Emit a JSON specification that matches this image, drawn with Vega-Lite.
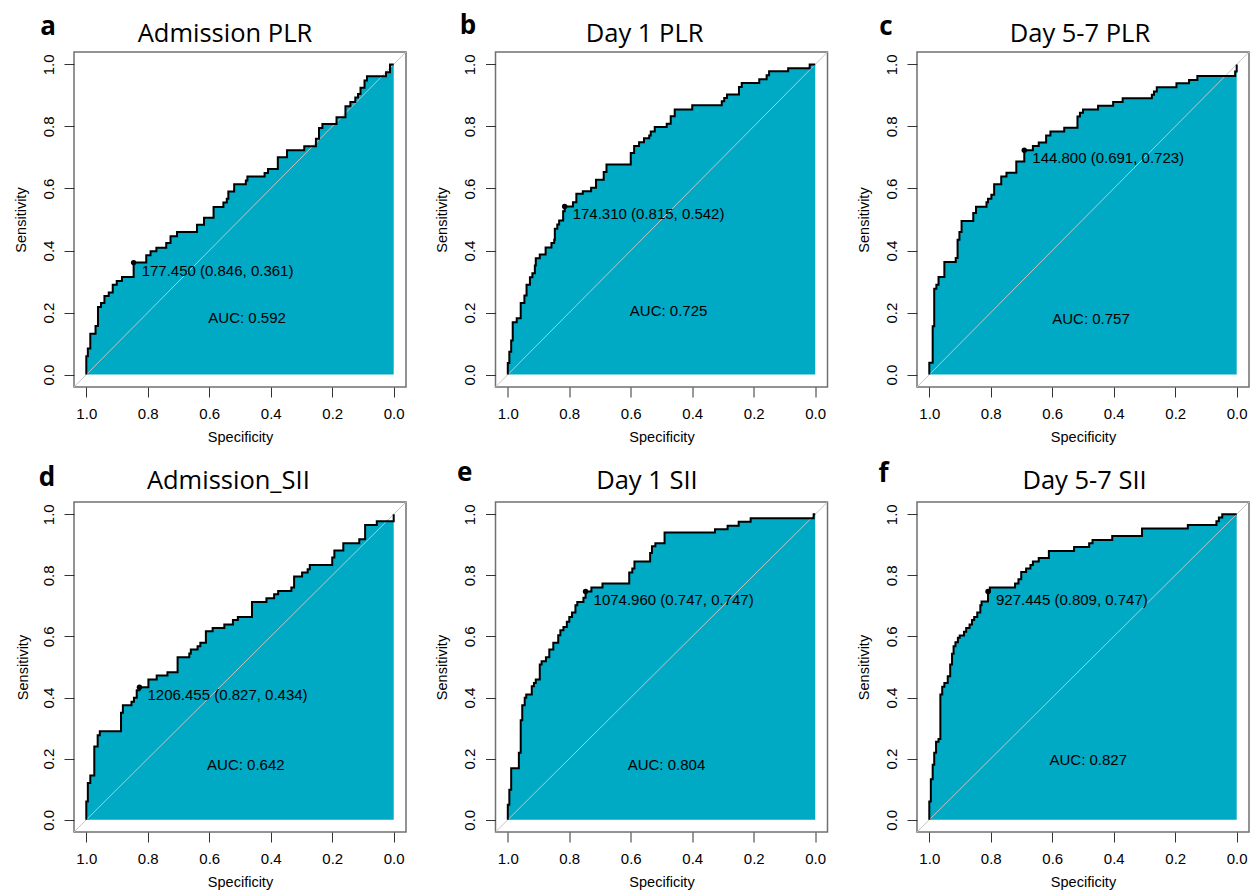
{
"$schema": "https://vega.github.io/schema/vega-lite/v6.json",
"background": "white",
"padding": {"left": 12, "top": 12, "right": 0, "bottom": 0},
"config": {
  "view": {"stroke": null},
  "font": "Liberation Sans",
  "axis": {"domain": false, "grid": false, "tickColor": "#333333", "tickSize": 10, "tickWidth": 1, "labelFont": "Liberation Sans", "labelFontSize": 15, "labelColor": "#000000", "titleFont": "Liberation Sans", "titleFontSize": 14.5, "titleFontWeight": "normal", "titleColor": "#000000", "labelFlush": false, "labelOverlap": false},
  "axisX": {"labelPadding": 9, "titlePadding": 9},
  "axisY": {"labelAngle": -90, "labelAlign": "center", "labelBaseline": "bottom", "labelPadding": 8, "titlePadding": 13},
  "text": {"font": "Liberation Sans", "color": "#000000"}
},
"datasets": {
  "a": [{"spec":1.0,"sens":0},{"spec":1.0,"sens":0.059},{"spec":0.995,"sens":0.084},{"spec":0.987,"sens":0.132},{"spec":0.970,"sens":0.157},{"spec":0.962,"sens":0.218},{"spec":0.952,"sens":0.231},{"spec":0.941,"sens":0.253},{"spec":0.927,"sens":0.265},{"spec":0.914,"sens":0.290},{"spec":0.901,"sens":0.302},{"spec":0.884,"sens":0.315},{"spec":0.846,"sens":0.361},{"spec":0.805,"sens":0.385},{"spec":0.791,"sens":0.398},{"spec":0.772,"sens":0.409},{"spec":0.740,"sens":0.424},{"spec":0.726,"sens":0.446},{"spec":0.705,"sens":0.460},{"spec":0.640,"sens":0.483},{"spec":0.617,"sens":0.506},{"spec":0.586,"sens":0.540},{"spec":0.554,"sens":0.555},{"spec":0.543,"sens":0.567},{"spec":0.538,"sens":0.590},{"spec":0.519,"sens":0.614},{"spec":0.481,"sens":0.626},{"spec":0.476,"sens":0.639},{"spec":0.420,"sens":0.650},{"spec":0.409,"sens":0.663},{"spec":0.377,"sens":0.701},{"spec":0.347,"sens":0.723},{"spec":0.291,"sens":0.736},{"spec":0.253,"sens":0.760},{"spec":0.243,"sens":0.795},{"spec":0.232,"sens":0.808},{"spec":0.186,"sens":0.830},{"spec":0.157,"sens":0.865},{"spec":0.141,"sens":0.879},{"spec":0.125,"sens":0.893},{"spec":0.116,"sens":0.905},{"spec":0.108,"sens":0.925},{"spec":0.095,"sens":0.948},{"spec":0.087,"sens":0.962},{"spec":0.025,"sens":0.975},{"spec":0.012,"sens":1.0},{"spec":0.0,"sens":1.0}],
  "b": [{"spec":1.0,"sens":0},{"spec":1.0,"sens":0.037},{"spec":0.995,"sens":0.074},{"spec":0.989,"sens":0.110},{"spec":0.984,"sens":0.169},{"spec":0.971,"sens":0.182},{"spec":0.958,"sens":0.231},{"spec":0.946,"sens":0.255},{"spec":0.939,"sens":0.290},{"spec":0.928,"sens":0.314},{"spec":0.920,"sens":0.327},{"spec":0.912,"sens":0.352},{"spec":0.909,"sens":0.375},{"spec":0.896,"sens":0.387},{"spec":0.877,"sens":0.410},{"spec":0.858,"sens":0.424},{"spec":0.849,"sens":0.435},{"spec":0.847,"sens":0.470},{"spec":0.839,"sens":0.484},{"spec":0.833,"sens":0.497},{"spec":0.820,"sens":0.527},{"spec":0.815,"sens":0.542},{"spec":0.788,"sens":0.556},{"spec":0.777,"sens":0.583},{"spec":0.756,"sens":0.591},{"spec":0.729,"sens":0.602},{"spec":0.713,"sens":0.628},{"spec":0.688,"sens":0.653},{"spec":0.679,"sens":0.677},{"spec":0.600,"sens":0.714},{"spec":0.589,"sens":0.737},{"spec":0.573,"sens":0.749},{"spec":0.557,"sens":0.762},{"spec":0.540,"sens":0.771},{"spec":0.535,"sens":0.784},{"spec":0.522,"sens":0.798},{"spec":0.483,"sens":0.809},{"spec":0.470,"sens":0.833},{"spec":0.457,"sens":0.855},{"spec":0.400,"sens":0.868},{"spec":0.304,"sens":0.881},{"spec":0.296,"sens":0.892},{"spec":0.287,"sens":0.903},{"spec":0.248,"sens":0.927},{"spec":0.239,"sens":0.940},{"spec":0.182,"sens":0.952},{"spec":0.158,"sens":0.965},{"spec":0.150,"sens":0.978},{"spec":0.088,"sens":0.988},{"spec":0.018,"sens":1.0},{"spec":0.0,"sens":1.0}],
  "c": [{"spec":1.0,"sens":0},{"spec":1.0,"sens":0.038},{"spec":0.989,"sens":0.156},{"spec":0.984,"sens":0.277},{"spec":0.977,"sens":0.290},{"spec":0.970,"sens":0.315},{"spec":0.951,"sens":0.363},{"spec":0.914,"sens":0.376},{"spec":0.908,"sens":0.435},{"spec":0.902,"sens":0.460},{"spec":0.895,"sens":0.495},{"spec":0.857,"sens":0.521},{"spec":0.848,"sens":0.541},{"spec":0.814,"sens":0.556},{"spec":0.809,"sens":0.567},{"spec":0.798,"sens":0.580},{"spec":0.789,"sens":0.614},{"spec":0.766,"sens":0.639},{"spec":0.749,"sens":0.651},{"spec":0.717,"sens":0.687},{"spec":0.691,"sens":0.723},{"spec":0.663,"sens":0.737},{"spec":0.644,"sens":0.748},{"spec":0.620,"sens":0.771},{"spec":0.606,"sens":0.784},{"spec":0.561,"sens":0.796},{"spec":0.518,"sens":0.832},{"spec":0.510,"sens":0.844},{"spec":0.500,"sens":0.855},{"spec":0.451,"sens":0.867},{"spec":0.402,"sens":0.879},{"spec":0.371,"sens":0.891},{"spec":0.276,"sens":0.902},{"spec":0.269,"sens":0.913},{"spec":0.260,"sens":0.926},{"spec":0.196,"sens":0.939},{"spec":0.155,"sens":0.950},{"spec":0.128,"sens":0.963},{"spec":0.005,"sens":0.977},{"spec":0.0,"sens":1.0}],
  "d": [{"spec":1.0,"sens":0},{"spec":1.0,"sens":0.060},{"spec":0.995,"sens":0.120},{"spec":0.987,"sens":0.145},{"spec":0.974,"sens":0.240},{"spec":0.963,"sens":0.277},{"spec":0.956,"sens":0.290},{"spec":0.887,"sens":0.350},{"spec":0.881,"sens":0.375},{"spec":0.853,"sens":0.386},{"spec":0.845,"sens":0.399},{"spec":0.836,"sens":0.424},{"spec":0.827,"sens":0.434},{"spec":0.798,"sens":0.459},{"spec":0.771,"sens":0.472},{"spec":0.736,"sens":0.483},{"spec":0.703,"sens":0.532},{"spec":0.665,"sens":0.544},{"spec":0.660,"sens":0.557},{"spec":0.638,"sens":0.568},{"spec":0.629,"sens":0.579},{"spec":0.611,"sens":0.617},{"spec":0.589,"sens":0.628},{"spec":0.551,"sens":0.639},{"spec":0.523,"sens":0.654},{"spec":0.507,"sens":0.664},{"spec":0.461,"sens":0.713},{"spec":0.414,"sens":0.725},{"spec":0.389,"sens":0.738},{"spec":0.376,"sens":0.749},{"spec":0.333,"sens":0.760},{"spec":0.324,"sens":0.796},{"spec":0.298,"sens":0.809},{"spec":0.280,"sens":0.820},{"spec":0.273,"sens":0.834},{"spec":0.200,"sens":0.858},{"spec":0.193,"sens":0.881},{"spec":0.164,"sens":0.905},{"spec":0.112,"sens":0.918},{"spec":0.093,"sens":0.965},{"spec":0.055,"sens":0.977},{"spec":0.0,"sens":1.0}],
  "e": [{"spec":1.0,"sens":0},{"spec":1.0,"sens":0.049},{"spec":0.995,"sens":0.098},{"spec":0.989,"sens":0.169},{"spec":0.964,"sens":0.219},{"spec":0.958,"sens":0.326},{"spec":0.953,"sens":0.375},{"spec":0.945,"sens":0.399},{"spec":0.940,"sens":0.410},{"spec":0.922,"sens":0.437},{"spec":0.915,"sens":0.448},{"spec":0.909,"sens":0.459},{"spec":0.896,"sens":0.508},{"spec":0.890,"sens":0.519},{"spec":0.876,"sens":0.532},{"spec":0.865,"sens":0.557},{"spec":0.852,"sens":0.579},{"spec":0.836,"sens":0.604},{"spec":0.829,"sens":0.620},{"spec":0.819,"sens":0.631},{"spec":0.808,"sens":0.648},{"spec":0.800,"sens":0.664},{"spec":0.791,"sens":0.678},{"spec":0.780,"sens":0.702},{"spec":0.774,"sens":0.713},{"spec":0.754,"sens":0.727},{"spec":0.747,"sens":0.747},{"spec":0.728,"sens":0.760},{"spec":0.692,"sens":0.773},{"spec":0.605,"sens":0.809},{"spec":0.595,"sens":0.822},{"spec":0.588,"sens":0.845},{"spec":0.537,"sens":0.873},{"spec":0.531,"sens":0.895},{"spec":0.520,"sens":0.905},{"spec":0.490,"sens":0.940},{"spec":0.326,"sens":0.951},{"spec":0.285,"sens":0.962},{"spec":0.249,"sens":0.975},{"spec":0.210,"sens":0.987},{"spec":0.005,"sens":1.0},{"spec":0.0,"sens":1.0}],
  "f": [{"spec":1.0,"sens":0},{"spec":1.0,"sens":0.060},{"spec":0.995,"sens":0.133},{"spec":0.989,"sens":0.180},{"spec":0.984,"sens":0.219},{"spec":0.978,"sens":0.255},{"spec":0.970,"sens":0.264},{"spec":0.964,"sens":0.410},{"spec":0.958,"sens":0.435},{"spec":0.951,"sens":0.448},{"spec":0.940,"sens":0.470},{"spec":0.932,"sens":0.508},{"spec":0.926,"sens":0.543},{"spec":0.921,"sens":0.568},{"spec":0.915,"sens":0.581},{"spec":0.907,"sens":0.596},{"spec":0.901,"sens":0.603},{"spec":0.887,"sens":0.615},{"spec":0.880,"sens":0.628},{"spec":0.869,"sens":0.639},{"spec":0.861,"sens":0.654},{"spec":0.854,"sens":0.664},{"spec":0.844,"sens":0.678},{"spec":0.834,"sens":0.702},{"spec":0.830,"sens":0.714},{"spec":0.809,"sens":0.747},{"spec":0.803,"sens":0.760},{"spec":0.721,"sens":0.773},{"spec":0.710,"sens":0.787},{"spec":0.701,"sens":0.811},{"spec":0.685,"sens":0.822},{"spec":0.671,"sens":0.834},{"spec":0.663,"sens":0.845},{"spec":0.644,"sens":0.857},{"spec":0.611,"sens":0.880},{"spec":0.529,"sens":0.893},{"spec":0.480,"sens":0.905},{"spec":0.469,"sens":0.916},{"spec":0.405,"sens":0.929},{"spec":0.308,"sens":0.953},{"spec":0.159,"sens":0.965},{"spec":0.066,"sens":0.977},{"spec":0.058,"sens":0.989},{"spec":0.047,"sens":1.0},{"spec":0.0,"sens":1.0}],
  "a_t": [{"spec":0.846,"sens":0.361,"label":"177.450 (0.846, 0.361)","auc":"AUC: 0.592","letter":"a","name":"Admission PLR"}],
  "b_t": [{"spec":0.815,"sens":0.542,"label":"174.310 (0.815, 0.542)","auc":"AUC: 0.725","letter":"b","name":"Day 1 PLR"}],
  "c_t": [{"spec":0.691,"sens":0.723,"label":"144.800 (0.691, 0.723)","auc":"AUC: 0.757","letter":"c","name":"Day 5-7 PLR"}],
  "d_t": [{"spec":0.827,"sens":0.434,"label":"1206.455 (0.827, 0.434)","auc":"AUC: 0.642","letter":"d","name":"Admission_SII"}],
  "e_t": [{"spec":0.747,"sens":0.747,"label":"1074.960 (0.747, 0.747)","auc":"AUC: 0.804","letter":"e","name":"Day 1 SII"}],
  "f_t": [{"spec":0.809,"sens":0.747,"label":"927.445 (0.809, 0.747)","auc":"AUC: 0.827","letter":"f","name":"Day 5-7 SII"}]
},
"columns": 3,
"spacing": {"row": 115, "column": 89.5},
"bounds": "flush",
"align": "all",
"concat": [
  {"width": 332, "height": 335, "view": {"stroke": "#707070", "strokeWidth": 1.5},
   "layer": [
    {"data": {"name": "a"}, "mark": {"type": "area", "interpolate": "step-after", "color": "#00A9C4", "opacity": 1},
     "encoding": {"x": {"field": "spec", "type": "quantitative", "scale": {"domain": [-0.04, 1.04], "reverse": true, "nice": false, "zero": false}, "axis": {"title": "Specificity", "values": [0, 0.2, 0.4, 0.6, 0.8, 1], "format": ".1f"}},
                  "y": {"field": "sens", "type": "quantitative", "scale": {"domain": [-0.04, 1.04], "nice": false, "zero": false}, "axis": {"title": "Sensitivity", "values": [0, 0.2, 0.4, 0.6, 0.8, 1], "format": ".1f"}},
                  "y2": {"datum": 0}, "order": {"value": null}}},
    {"data": {"values": [{}]}, "mark": {"type": "rule", "color": "#c4c4c4", "strokeWidth": 1}, "encoding": {"x": {"datum": 1.04}, "y": {"datum": -0.04}, "x2": {"datum": -0.04}, "y2": {"datum": 1.04}}},
    {"data": {"name": "a"}, "mark": {"type": "line", "interpolate": "step-after", "color": "#000000", "strokeWidth": 2}, "encoding": {"x": {"field": "spec", "type": "quantitative"}, "y": {"field": "sens", "type": "quantitative"}, "order": {"value": null}}},
    {"data": {"name": "a_t"}, "mark": {"type": "point", "filled": true, "color": "#000000", "size": 30, "opacity": 1}, "encoding": {"x": {"field": "spec", "type": "quantitative"}, "y": {"field": "sens", "type": "quantitative"}}},
    {"data": {"name": "a_t"}, "mark": {"type": "text", "align": "left", "baseline": "middle", "dx": 8, "dy": 8, "fontSize": 15}, "encoding": {"x": {"field": "spec", "type": "quantitative"}, "y": {"field": "sens", "type": "quantitative"}, "text": {"field": "label"}}},
    {"data": {"name": "a_t"}, "mark": {"type": "text", "align": "left", "baseline": "middle", "fontSize": 15}, "encoding": {"x": {"datum": 0.603}, "y": {"datum": 0.183}, "text": {"field": "auc"}}},
    {"data": {"name": "a_t"}, "mark": {"type": "text", "align": "left", "baseline": "alphabetic", "font": "Open Sans", "fontWeight": "bold", "fontSize": 26}, "encoding": {"x": {"datum": 1.15}, "y": {"datum": 1.095}, "text": {"field": "letter"}}},
    {"data": {"name": "a_t"}, "mark": {"type": "text", "align": "center", "baseline": "alphabetic", "font": "Open Sans", "fontSize": 25.5}, "encoding": {"x": {"datum": 0.549}, "y": {"datum": 1.072}, "text": {"field": "name"}}}
   ]},
  {"width": 332, "height": 335, "view": {"stroke": "#707070", "strokeWidth": 1.5},
   "layer": [
    {"data": {"name": "b"}, "mark": {"type": "area", "interpolate": "step-after", "color": "#00A9C4", "opacity": 1},
     "encoding": {"x": {"field": "spec", "type": "quantitative", "scale": {"domain": [-0.04, 1.04], "reverse": true, "nice": false, "zero": false}, "axis": {"title": "Specificity", "values": [0, 0.2, 0.4, 0.6, 0.8, 1], "format": ".1f"}},
                  "y": {"field": "sens", "type": "quantitative", "scale": {"domain": [-0.04, 1.04], "nice": false, "zero": false}, "axis": {"title": "Sensitivity", "values": [0, 0.2, 0.4, 0.6, 0.8, 1], "format": ".1f"}},
                  "y2": {"datum": 0}, "order": {"value": null}}},
    {"data": {"values": [{}]}, "mark": {"type": "rule", "color": "#c4c4c4", "strokeWidth": 1}, "encoding": {"x": {"datum": 1.04}, "y": {"datum": -0.04}, "x2": {"datum": -0.04}, "y2": {"datum": 1.04}}},
    {"data": {"name": "b"}, "mark": {"type": "line", "interpolate": "step-after", "color": "#000000", "strokeWidth": 2}, "encoding": {"x": {"field": "spec", "type": "quantitative"}, "y": {"field": "sens", "type": "quantitative"}, "order": {"value": null}}},
    {"data": {"name": "b_t"}, "mark": {"type": "point", "filled": true, "color": "#000000", "size": 30, "opacity": 1}, "encoding": {"x": {"field": "spec", "type": "quantitative"}, "y": {"field": "sens", "type": "quantitative"}}},
    {"data": {"name": "b_t"}, "mark": {"type": "text", "align": "left", "baseline": "middle", "dx": 8, "dy": 8, "fontSize": 15}, "encoding": {"x": {"field": "spec", "type": "quantitative"}, "y": {"field": "sens", "type": "quantitative"}, "text": {"field": "label"}}},
    {"data": {"name": "b_t"}, "mark": {"type": "text", "align": "left", "baseline": "middle", "fontSize": 15}, "encoding": {"x": {"datum": 0.603}, "y": {"datum": 0.204}, "text": {"field": "auc"}}},
    {"data": {"name": "b_t"}, "mark": {"type": "text", "align": "left", "baseline": "alphabetic", "font": "Open Sans", "fontWeight": "bold", "fontSize": 26}, "encoding": {"x": {"datum": 1.156}, "y": {"datum": 1.098}, "text": {"field": "letter"}}},
    {"data": {"name": "b_t"}, "mark": {"type": "text", "align": "center", "baseline": "alphabetic", "font": "Open Sans", "fontSize": 25.5}, "encoding": {"x": {"datum": 0.555}, "y": {"datum": 1.072}, "text": {"field": "name"}}}
   ]},
  {"width": 332, "height": 335, "view": {"stroke": "#707070", "strokeWidth": 1.5},
   "layer": [
    {"data": {"name": "c"}, "mark": {"type": "area", "interpolate": "step-after", "color": "#00A9C4", "opacity": 1},
     "encoding": {"x": {"field": "spec", "type": "quantitative", "scale": {"domain": [-0.04, 1.04], "reverse": true, "nice": false, "zero": false}, "axis": {"title": "Specificity", "values": [0, 0.2, 0.4, 0.6, 0.8, 1], "format": ".1f"}},
                  "y": {"field": "sens", "type": "quantitative", "scale": {"domain": [-0.04, 1.04], "nice": false, "zero": false}, "axis": {"title": "Sensitivity", "values": [0, 0.2, 0.4, 0.6, 0.8, 1], "format": ".1f"}},
                  "y2": {"datum": 0}, "order": {"value": null}}},
    {"data": {"values": [{}]}, "mark": {"type": "rule", "color": "#c4c4c4", "strokeWidth": 1}, "encoding": {"x": {"datum": 1.04}, "y": {"datum": -0.04}, "x2": {"datum": -0.04}, "y2": {"datum": 1.04}}},
    {"data": {"name": "c"}, "mark": {"type": "line", "interpolate": "step-after", "color": "#000000", "strokeWidth": 2}, "encoding": {"x": {"field": "spec", "type": "quantitative"}, "y": {"field": "sens", "type": "quantitative"}, "order": {"value": null}}},
    {"data": {"name": "c_t"}, "mark": {"type": "point", "filled": true, "color": "#000000", "size": 30, "opacity": 1}, "encoding": {"x": {"field": "spec", "type": "quantitative"}, "y": {"field": "sens", "type": "quantitative"}}},
    {"data": {"name": "c_t"}, "mark": {"type": "text", "align": "left", "baseline": "middle", "dx": 8, "dy": 8, "fontSize": 15}, "encoding": {"x": {"field": "spec", "type": "quantitative"}, "y": {"field": "sens", "type": "quantitative"}, "text": {"field": "label"}}},
    {"data": {"name": "c_t"}, "mark": {"type": "text", "align": "left", "baseline": "middle", "fontSize": 15}, "encoding": {"x": {"datum": 0.6}, "y": {"datum": 0.178}, "text": {"field": "auc"}}},
    {"data": {"name": "c_t"}, "mark": {"type": "text", "align": "left", "baseline": "alphabetic", "font": "Open Sans", "fontWeight": "bold", "fontSize": 26}, "encoding": {"x": {"datum": 1.163}, "y": {"datum": 1.095}, "text": {"field": "letter"}}},
    {"data": {"name": "c_t"}, "mark": {"type": "text", "align": "center", "baseline": "alphabetic", "font": "Open Sans", "fontSize": 25.5}, "encoding": {"x": {"datum": 0.51}, "y": {"datum": 1.072}, "text": {"field": "name"}}}
   ]},
  {"width": 332, "height": 330, "view": {"stroke": "#707070", "strokeWidth": 1.5},
   "layer": [
    {"data": {"name": "d"}, "mark": {"type": "area", "interpolate": "step-after", "color": "#00A9C4", "opacity": 1},
     "encoding": {"x": {"field": "spec", "type": "quantitative", "scale": {"domain": [-0.04, 1.04], "reverse": true, "nice": false, "zero": false}, "axis": {"title": "Specificity", "values": [0, 0.2, 0.4, 0.6, 0.8, 1], "format": ".1f"}},
                  "y": {"field": "sens", "type": "quantitative", "scale": {"domain": [-0.04, 1.04], "nice": false, "zero": false}, "axis": {"title": "Sensitivity", "values": [0, 0.2, 0.4, 0.6, 0.8, 1], "format": ".1f", "titlePadding": 11}},
                  "y2": {"datum": 0}, "order": {"value": null}}},
    {"data": {"values": [{}]}, "mark": {"type": "rule", "color": "#c4c4c4", "strokeWidth": 1}, "encoding": {"x": {"datum": 1.04}, "y": {"datum": -0.04}, "x2": {"datum": -0.04}, "y2": {"datum": 1.04}}},
    {"data": {"name": "d"}, "mark": {"type": "line", "interpolate": "step-after", "color": "#000000", "strokeWidth": 2}, "encoding": {"x": {"field": "spec", "type": "quantitative"}, "y": {"field": "sens", "type": "quantitative"}, "order": {"value": null}}},
    {"data": {"name": "d_t"}, "mark": {"type": "point", "filled": true, "color": "#000000", "size": 30, "opacity": 1}, "encoding": {"x": {"field": "spec", "type": "quantitative"}, "y": {"field": "sens", "type": "quantitative"}}},
    {"data": {"name": "d_t"}, "mark": {"type": "text", "align": "left", "baseline": "middle", "dx": 8, "dy": 8, "fontSize": 15}, "encoding": {"x": {"field": "spec", "type": "quantitative"}, "y": {"field": "sens", "type": "quantitative"}, "text": {"field": "label"}}},
    {"data": {"name": "d_t"}, "mark": {"type": "text", "align": "left", "baseline": "middle", "fontSize": 15}, "encoding": {"x": {"datum": 0.607}, "y": {"datum": 0.18}, "text": {"field": "auc"}}},
    {"data": {"name": "d_t"}, "mark": {"type": "text", "align": "left", "baseline": "alphabetic", "font": "Open Sans", "fontWeight": "bold", "fontSize": 26}, "encoding": {"x": {"datum": 1.155}, "y": {"datum": 1.092}, "text": {"field": "letter"}}},
    {"data": {"name": "d_t"}, "mark": {"type": "text", "align": "center", "baseline": "alphabetic", "font": "Open Sans", "fontSize": 25.5}, "encoding": {"x": {"datum": 0.538}, "y": {"datum": 1.0825}, "text": {"field": "name"}}}
   ]},
  {"width": 332, "height": 330, "view": {"stroke": "#707070", "strokeWidth": 1.5},
   "layer": [
    {"data": {"name": "e"}, "mark": {"type": "area", "interpolate": "step-after", "color": "#00A9C4", "opacity": 1},
     "encoding": {"x": {"field": "spec", "type": "quantitative", "scale": {"domain": [-0.04, 1.04], "reverse": true, "nice": false, "zero": false}, "axis": {"title": "Specificity", "values": [0, 0.2, 0.4, 0.6, 0.8, 1], "format": ".1f"}},
                  "y": {"field": "sens", "type": "quantitative", "scale": {"domain": [-0.04, 1.04], "nice": false, "zero": false}, "axis": {"title": "Sensitivity", "values": [0, 0.2, 0.4, 0.6, 0.8, 1], "format": ".1f"}},
                  "y2": {"datum": 0}, "order": {"value": null}}},
    {"data": {"values": [{}]}, "mark": {"type": "rule", "color": "#c4c4c4", "strokeWidth": 1}, "encoding": {"x": {"datum": 1.04}, "y": {"datum": -0.04}, "x2": {"datum": -0.04}, "y2": {"datum": 1.04}}},
    {"data": {"name": "e"}, "mark": {"type": "line", "interpolate": "step-after", "color": "#000000", "strokeWidth": 2}, "encoding": {"x": {"field": "spec", "type": "quantitative"}, "y": {"field": "sens", "type": "quantitative"}, "order": {"value": null}}},
    {"data": {"name": "e_t"}, "mark": {"type": "point", "filled": true, "color": "#000000", "size": 30, "opacity": 1}, "encoding": {"x": {"field": "spec", "type": "quantitative"}, "y": {"field": "sens", "type": "quantitative"}}},
    {"data": {"name": "e_t"}, "mark": {"type": "text", "align": "left", "baseline": "middle", "dx": 8, "dy": 8, "fontSize": 15}, "encoding": {"x": {"field": "spec", "type": "quantitative"}, "y": {"field": "sens", "type": "quantitative"}, "text": {"field": "label"}}},
    {"data": {"name": "e_t"}, "mark": {"type": "text", "align": "left", "baseline": "middle", "fontSize": 15}, "encoding": {"x": {"datum": 0.61}, "y": {"datum": 0.178}, "text": {"field": "auc"}}},
    {"data": {"name": "e_t"}, "mark": {"type": "text", "align": "left", "baseline": "alphabetic", "font": "Open Sans", "fontWeight": "bold", "fontSize": 26}, "encoding": {"x": {"datum": 1.165}, "y": {"datum": 1.109}, "text": {"field": "letter"}}},
    {"data": {"name": "e_t"}, "mark": {"type": "text", "align": "center", "baseline": "alphabetic", "font": "Open Sans", "fontSize": 25.5}, "encoding": {"x": {"datum": 0.5475}, "y": {"datum": 1.0825}, "text": {"field": "name"}}}
   ]},
  {"width": 332, "height": 330, "view": {"stroke": "#707070", "strokeWidth": 1.5},
   "layer": [
    {"data": {"name": "f"}, "mark": {"type": "area", "interpolate": "step-after", "color": "#00A9C4", "opacity": 1},
     "encoding": {"x": {"field": "spec", "type": "quantitative", "scale": {"domain": [-0.04, 1.04], "reverse": true, "nice": false, "zero": false}, "axis": {"title": "Specificity", "values": [0, 0.2, 0.4, 0.6, 0.8, 1], "format": ".1f"}},
                  "y": {"field": "sens", "type": "quantitative", "scale": {"domain": [-0.04, 1.04], "nice": false, "zero": false}, "axis": {"title": "Sensitivity", "values": [0, 0.2, 0.4, 0.6, 0.8, 1], "format": ".1f"}},
                  "y2": {"datum": 0}, "order": {"value": null}}},
    {"data": {"values": [{}]}, "mark": {"type": "rule", "color": "#c4c4c4", "strokeWidth": 1}, "encoding": {"x": {"datum": 1.04}, "y": {"datum": -0.04}, "x2": {"datum": -0.04}, "y2": {"datum": 1.04}}},
    {"data": {"name": "f"}, "mark": {"type": "line", "interpolate": "step-after", "color": "#000000", "strokeWidth": 2}, "encoding": {"x": {"field": "spec", "type": "quantitative"}, "y": {"field": "sens", "type": "quantitative"}, "order": {"value": null}}},
    {"data": {"name": "f_t"}, "mark": {"type": "point", "filled": true, "color": "#000000", "size": 30, "opacity": 1}, "encoding": {"x": {"field": "spec", "type": "quantitative"}, "y": {"field": "sens", "type": "quantitative"}}},
    {"data": {"name": "f_t"}, "mark": {"type": "text", "align": "left", "baseline": "middle", "dx": 8, "dy": 8, "fontSize": 15}, "encoding": {"x": {"field": "spec", "type": "quantitative"}, "y": {"field": "sens", "type": "quantitative"}, "text": {"field": "label"}}},
    {"data": {"name": "f_t"}, "mark": {"type": "text", "align": "left", "baseline": "middle", "fontSize": 15}, "encoding": {"x": {"datum": 0.609}, "y": {"datum": 0.195}, "text": {"field": "auc"}}},
    {"data": {"name": "f_t"}, "mark": {"type": "text", "align": "left", "baseline": "alphabetic", "font": "Open Sans", "fontWeight": "bold", "fontSize": 26}, "encoding": {"x": {"datum": 1.165}, "y": {"datum": 1.105}, "text": {"field": "letter"}}},
    {"data": {"name": "f_t"}, "mark": {"type": "text", "align": "center", "baseline": "alphabetic", "font": "Open Sans", "fontSize": 25.5}, "encoding": {"x": {"datum": 0.495}, "y": {"datum": 1.0825}, "text": {"field": "name"}}}
   ]}
]
}
